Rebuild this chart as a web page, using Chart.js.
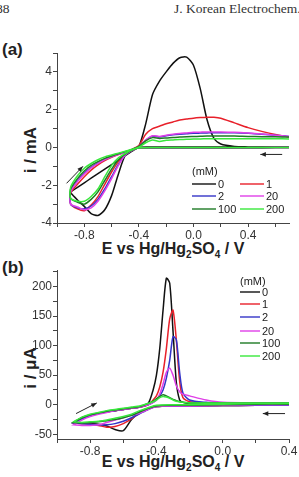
<!DOCTYPE html>
<html lang="en">
<head>
<meta charset="UTF-8">
<title>Cyclic voltammograms</title>
<script src="https://cdn.jsdelivr.net/npm/chart.js"></script>
<style>
  body { margin: 0; background: #fff; width: 299px; height: 477px; overflow: hidden; position: relative; font-family: "Liberation Sans", Arial, sans-serif; }
  canvas { position: absolute; left: 0; }
  .hdr { position: absolute; top: 1px; font-family: "Liberation Serif", serif; font-size: 13.5px; color: #333; white-space: nowrap; }
  .tag { position: absolute; left: 2px; font-weight: bold; font-size: 17px; color: #222; }
  .xt { position: absolute; left: 57px; width: 232px; text-align: center; font-weight: bold; font-size: 16px; line-height: 16px; color: #222; white-space: nowrap; }
  .xt sub { font-size: 10px; line-height: 0; }
  .yt { position: absolute; left: 31px; font-weight: bold; font-size: 17px; color: #222; white-space: nowrap; transform: translate(-50%, -50%) rotate(-90deg); }
</style>
</head>
<body>
<div class="hdr" style="left:-4px">88</div>
<div class="hdr" style="left:174px">J. Korean Electrochem. Soc.</div>
<div class="tag" style="top:40px">(a)</div>
<div class="tag" style="top:258px">(b)</div>
<div class="yt" style="top:150px">i / mA</div>
<div class="yt" style="top:368px">i / μA</div>
<div class="xt" style="top:241px">E vs Hg/Hg<sub>2</sub>SO<sub>4</sub> / V</div>
<div class="xt" style="top:454px">E vs Hg/Hg<sub>2</sub>SO<sub>4</sub> / V</div>
<canvas id="chartA" width="299" height="255" style="top:0"></canvas>
<canvas id="chartB" width="299" height="237" style="top:240px"></canvas>
<script>
// ---- panel (a): potential sweep (V), cathodic then anodic
const sweepA = [0.7, 0.5, 0.3, 0.1, -0.1, -0.3, -0.4, -0.45, -0.5, -0.55, -0.6, -0.65, -0.7, -0.75, -0.8, -0.85, -0.9,
  -0.9, -0.85, -0.8, -0.75, -0.7, -0.65, -0.6, -0.55, -0.5, -0.45, -0.4, -0.35, -0.3, -0.25, -0.2, -0.15, -0.1, -0.05,
  0.0, 0.05, 0.1, 0.15, 0.2, 0.3, 0.4, 0.5, 0.6, 0.7];
// currents (mA) for each concentration
const curA0 = [0.02, 0.02, 0.02, 0.02, 0.02, 0.02, 0.0, -0.2, -0.42, -1.4, -2.55, -3.3, -3.6, -3.5, -3.12, -2.78, -2.4,
  -2.35, -2.11, -1.87, -1.63, -1.39, -1.15, -0.91, -0.67, -0.43, -0.19, 0.05, 1.25, 2.8, 3.5, 4.0, 4.45, 4.75, 4.78,
  4.35, 3.1, 1.45, 0.48, 0.18, 0.05, 0.03, 0.02, 0.02, 0.02];
const curA1 = [0.0, -0.01, -0.01, -0.02, -0.02, -0.02, -0.02, -0.15, -0.38, -0.75, -1.3, -1.95, -2.6, -3.05, -3.35, -3.25, -3.0,
  -2.4, -1.95, -1.55, -1.2, -0.92, -0.7, -0.52, -0.38, -0.25, -0.1, 0.1, 0.7, 1.0, 1.12, 1.25, 1.35, 1.45, 1.5,
  1.55, 1.58, 1.6, 1.6, 1.55, 1.3, 1.05, 0.85, 0.68, 0.55];
const curA2 = [0.0, -0.01, -0.01, -0.02, -0.02, -0.02, -0.02, -0.15, -0.4, -0.9, -1.55, -2.2, -2.75, -3.1, -3.25, -3.2, -3.0,
  -2.3, -1.75, -1.35, -1.05, -0.82, -0.63, -0.48, -0.35, -0.25, -0.12, 0.05, 0.38, 0.6, 0.55, 0.62, 0.67, 0.7, 0.72,
  0.75, 0.76, 0.77, 0.78, 0.78, 0.78, 0.75, 0.7, 0.65, 0.58];
const curA20 = [0.0, -0.01, -0.01, -0.02, -0.02, -0.02, -0.02, -0.15, -0.4, -0.95, -1.65, -2.3, -2.85, -3.2, -3.3, -3.15, -3.0,
  -2.35, -1.8, -1.4, -1.08, -0.84, -0.64, -0.49, -0.36, -0.25, -0.12, 0.05, 0.4, 0.62, 0.58, 0.65, 0.7, 0.74, 0.77,
  0.8, 0.81, 0.82, 0.82, 0.82, 0.8, 0.76, 0.71, 0.65, 0.58];
const curA100 = [0.0, -0.01, -0.01, -0.02, -0.02, -0.02, -0.02, -0.14, -0.35, -0.65, -1.15, -1.75, -2.35, -2.75, -3.0, -2.9, -2.7,
  -2.2, -1.65, -1.25, -0.95, -0.75, -0.58, -0.45, -0.33, -0.22, -0.1, 0.05, 0.35, 0.52, 0.48, 0.5, 0.53, 0.55, 0.57,
  0.58, 0.59, 0.6, 0.6, 0.6, 0.6, 0.58, 0.57, 0.56, 0.55];
const curA200 = [0.0, 0.0, 0.0, 0.0, 0.0, 0.0, -0.02, -0.13, -0.32, -0.55, -0.95, -1.55, -2.2, -2.6, -2.85, -2.85, -2.7,
  -2.1, -1.5, -1.1, -0.85, -0.65, -0.5, -0.4, -0.3, -0.2, -0.1, 0.02, 0.25, 0.4, 0.32, 0.38, 0.4, 0.42, 0.43,
  0.45, 0.45, 0.46, 0.46, 0.46, 0.46, 0.46, 0.46, 0.46, 0.45];

// ---- panel (b)
const sweepB = [0.4, 0.2, 0.0, -0.2, -0.3, -0.4, -0.45, -0.5, -0.55, -0.6, -0.65, -0.7, -0.75, -0.8, -0.85, -0.9,
  -0.9, -0.85, -0.8, -0.75, -0.7, -0.65, -0.6, -0.55, -0.5, -0.45, -0.42, -0.4, -0.38, -0.36, -0.34, -0.32, -0.3,
  -0.28, -0.26, -0.24, -0.2, -0.1, 0.0, 0.2, 0.4];
// currents (uA)
const curB0 = [-1, -1, -1.5, -2, -2, -3, -6, -12, -25, -44, -42, -36, -33, -32, -31, -30,
  -30, -22, -18, -15, -12, -10, -8, -6, -4, 2, 25, 50, 95, 160, 214, 206, 125,
  38, 8, 4, 2, 2, 2, 2, 2];
const curB1 = [-1, -1, -1.5, -2, -2, -3, -7, -14, -24, -32, -37, -38, -35, -33, -32, -31,
  -31, -23, -18, -15, -12, -10, -8, -6, -4, 0, 8, 15, 30, 55, 95, 145, 160,
  110, 40, 12, 5, 3, 2, 2, 2];
const curB2 = [-1, -1, -1.5, -2, -2, -3, -8, -15, -22, -28, -32, -34, -34, -33, -32, -31,
  -31, -24, -19, -15, -12, -10, -8, -6, -4, 0, 4, 8, 15, 25, 45, 75, 115,
  110, 55, 20, 8, 4, 3, 2, 2];
const curB20 = [0, 0, -1, -2, -2, -3, -8, -14, -18, -22, -26, -30, -34, -35, -35, -34,
  -34, -26, -20, -16, -13, -10, -8, -6, -4, 0, 4, 8, 18, 35, 55, 62, 50,
  32, 22, 18, 15, 8, 4, 3, 3];
const curB100 = [1, 1, 0, -1, -1, -2, -6, -12, -18, -22, -25, -27, -29, -30, -31, -30,
  -30, -22, -17, -14, -11, -9, -7, -5, -3, 2, 6, 10, 14, 17, 15, 12, 9,
  7, 5, 4, 3, 3, 3, 3, 3];
const curB200 = [2, 2, 1, 0, 0, -1, -5, -10, -16, -20, -23, -26, -28, -29, -30, -29,
  -29, -21, -16, -13, -10, -8, -6, -4, -2, 2, 5, 8, 12, 14, 13, 11, 8,
  6, 5, 4, 3, 3, 3, 3, 3];

const concLabels = ["0", "1", "2", "20", "100", "200"];
const colors = ["#111111", "#e8202a", "#3434c8", "#e040e8", "#1e7a24", "#38e83c"];

// tick marks (every value gets a mark, only the labelled ones get text)
const xTicksA = [-1.0, -0.8, -0.6, -0.4, -0.2, 0.0, 0.2, 0.4, 0.6];
const xLabelsA = [-0.8, -0.4, 0.0, 0.4];
const yTicksA = [-4, -3, -2, -1, 0, 1, 2, 3, 4, 5];
const yLabelsA = [-4, -2, 0, 2, 4];
const xTicksB = [-1.0, -0.8, -0.6, -0.4, -0.2, 0.0, 0.2, 0.4];
const xLabelsB = [-0.8, -0.4, 0.0, 0.4];
const yTicksB = [-50, -25, 0, 25, 50, 75, 100, 125, 150, 175, 200, 225];
const yLabelsB = [-50, 0, 50, 100, 150, 200];

// scan direction arrows [x1, y1, x2, y2] in data units
const arrowsA = [[-0.93, -1.9, -0.81, -1.0], [0.65, -0.37, 0.49, -0.37]];
const arrowsB = [[-0.885, -15, -0.76, 3], [0.376, -15, 0.242, -15]];

function makeSets(sweep, curves) {
  return curves.map((cur, k) => ({
    label: concLabels[k],
    data: sweep.map((e, i) => ({ x: e, y: cur[i] })),
    borderColor: colors[k],
    borderWidth: 1.5,
    pointRadius: 0,
    showLine: true,
    tension: 0.25,
    fill: false
  })).reverse();
}

const arrowPlugin = {
  id: "arrows",
  afterDatasetsDraw(chart, args, opts) {
    const c = chart.ctx, xs = chart.scales.x, ys = chart.scales.y;
    c.save();
    c.strokeStyle = "#222"; c.fillStyle = "#222"; c.lineWidth = 1;
    opts.list.forEach(a => {
      const x1 = xs.getPixelForValue(a[0]), y1 = ys.getPixelForValue(a[1]);
      const x2 = xs.getPixelForValue(a[2]), y2 = ys.getPixelForValue(a[3]);
      const ang = Math.atan2(y2 - y1, x2 - x1);
      c.beginPath(); c.moveTo(x1, y1); c.lineTo(x2, y2); c.stroke();
      c.beginPath();
      c.moveTo(x2, y2);
      c.lineTo(x2 - 6 * Math.cos(ang - 0.4), y2 - 6 * Math.sin(ang - 0.4));
      c.lineTo(x2 - 6 * Math.cos(ang + 0.4), y2 - 6 * Math.sin(ang + 0.4));
      c.closePath(); c.fill();
    });
    c.restore();
  }
};

// legend drawn in fixed spots: [x, y] of line start for each conc.
const legendPlugin = {
  id: "cvlegend",
  afterDraw(chart, args, opts) {
    const c = chart.ctx;
    c.save();
    c.font = "11px 'Liberation Sans', Arial, sans-serif";
    c.textBaseline = "middle";
    c.fillStyle = "#222";
    c.fillText("(mM)", opts.head[0], opts.head[1]);
    opts.spots.forEach((p, k) => {
      c.strokeStyle = colors[k]; c.lineWidth = 1.4;
      c.beginPath(); c.moveTo(p[0], p[1]); c.lineTo(p[0] + opts.len, p[1]); c.stroke();
      c.fillStyle = "#222";
      c.fillText(concLabels[k], p[0] + opts.len + 2, p[1] + 0.5);
    });
    c.restore();
  }
};

function axisOpts(min, max, tickVals, labelVals, digits, fit) {
  return {
    type: "linear", min: min, max: max,
    border: { display: true, color: "#444", width: 1 },
    grid: { display: true, drawOnChartArea: false, drawTicks: true, tickLength: 4, color: "#444" },
    afterBuildTicks: s => { s.ticks = tickVals.map(v => ({ value: v })); },
    ticks: {
      color: "#333", padding: 1, autoSkip: false, maxRotation: 0,
      font: { family: "'Liberation Sans', Arial, sans-serif", size: 12 },
      callback: v => labelVals.some(l => Math.abs(l - v) < 1e-6) ? v.toFixed(digits) : ""
    },
    afterFit: fit
  };
}

Chart.defaults.animation = false;

new Chart(document.getElementById("chartA"), {
  type: "scatter",
  data: { datasets: makeSets(sweepA, [curA0, curA1, curA2, curA20, curA100, curA200]) },
  options: {
    responsive: false,
    layout: { padding: { top: 53, right: 10, left: 0, bottom: 0 } },
    scales: {
      x: axisOpts(-1.0, 0.7, xTicksA, xLabelsA, 1, s => { s.height = 32; }),
      y: axisOpts(-4, 5, yTicksA, yLabelsA, 0, s => { s.width = 57; })
    },
    plugins: {
      legend: { display: false },
      tooltip: { enabled: false },
      arrows: { list: arrowsA },
      cvlegend: { head: [192, 172], len: 24,
        spots: [[192, 184], [240, 184], [192, 196], [240, 196], [192, 209], [240, 209]] }
    }
  },
  plugins: [arrowPlugin, legendPlugin]
});

new Chart(document.getElementById("chartB"), {
  type: "scatter",
  data: { datasets: makeSets(sweepB, [curB0, curB1, curB2, curB20, curB100, curB200]) },
  options: {
    responsive: false,
    layout: { padding: { top: 30, right: 10, left: 0, bottom: 0 } },
    scales: {
      x: axisOpts(-1.0, 0.4, xTicksB, xLabelsB, 1, s => { s.height = 38; }),
      y: axisOpts(-58, 228, yTicksB, yLabelsB, 0, s => { s.width = 57; })
    },
    plugins: {
      legend: { display: false },
      tooltip: { enabled: false },
      arrows: { list: arrowsB },
      cvlegend: { head: [240, 42], len: 20,
        spots: [[240, 52], [240, 64], [240, 77], [240, 91], [240, 103], [240, 116]] }
    }
  },
  plugins: [arrowPlugin, legendPlugin]
});
</script>
</body>
</html>
